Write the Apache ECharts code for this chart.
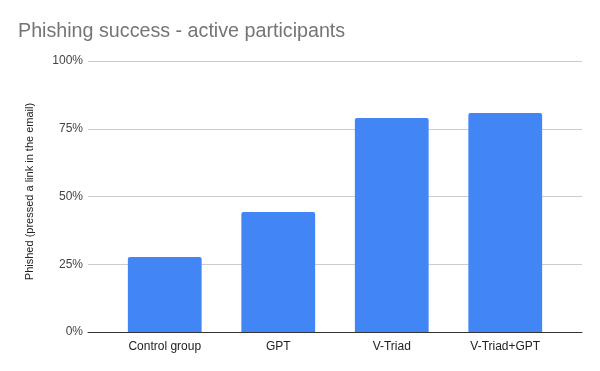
<!DOCTYPE html>
<html><head><meta charset="utf-8">
<script src="https://cdn.jsdelivr.net/npm/echarts@6/dist/echarts.min.js"></script>
<style>html,body{margin:0;padding:0;background:#fff}#c{width:600px;height:371px}</style>
</head><body><div id="c"></div>
<script>
const categories = ["Control group", "GPT", "V-Triad", "V-Triad+GPT"];
const phished = [27.7, 44.3, 79.0, 80.8];
const yTicks = [0, 25, 50, 75, 100];

const font = 'Liberation Sans, Arial';
const chart = echarts.init(document.getElementById('c'), null, {renderer: 'canvas'});
chart.setOption({
  animation: false,
  backgroundColor: '#ffffff',
  title: {
    text: 'Phishing success - active participants',
    left: 18, top: 22, padding: 0,
    textStyle: {fontFamily: font, fontSize: 19.7, fontWeight: 'normal', color: '#757575'}
  },
  grid: [
    {left: 88, right: 18, top: 61, bottom: 39},
    {left: 108, right: 38, top: 61, bottom: 39}
  ],
  xAxis: [
    {
      gridIndex: 0, type: 'value', min: 0, max: 1,
      axisLine: {show: true, onZero: false, lineStyle: {color: '#333333', width: 1}},
      axisTick: {show: false}, axisLabel: {show: false}, splitLine: {show: false}
    },
    {
      gridIndex: 1, type: 'category', data: categories,
      axisLine: {show: false},
      axisTick: {show: false},
      axisLabel: {color: '#222222', fontSize: 12, fontFamily: font, margin: 9}
    }
  ],
  yAxis: [
    {
      gridIndex: 0, type: 'value', min: yTicks[0], max: yTicks[yTicks.length - 1], interval: 25,
      name: 'Phished (pressed a link in the email)',
      nameLocation: 'middle', nameGap: 53, nameRotate: 90,
      nameTextStyle: {color: '#222222', fontSize: 11, fontFamily: font, padding: [0, 0, 0, 10]},
      axisLine: {show: false}, axisTick: {show: false},
      axisLabel: {formatter: '{value}%', color: '#444444', fontSize: 12, fontFamily: font, margin: 5},
      splitLine: {lineStyle: {color: '#cccccc', width: 1}}
    },
    {
      gridIndex: 1, type: 'value', min: yTicks[0], max: yTicks[yTicks.length - 1], interval: 25,
      axisLine: {show: false}, axisTick: {show: false}, axisLabel: {show: false}, splitLine: {show: false}
    }
  ],
  series: [{
    type: 'bar', xAxisIndex: 1, yAxisIndex: 1, data: phished, barWidth: '65%', z: 1,
    itemStyle: {color: '#4285f4', borderRadius: [2, 2, 0, 0]}
  }]
});
</script></body></html>
